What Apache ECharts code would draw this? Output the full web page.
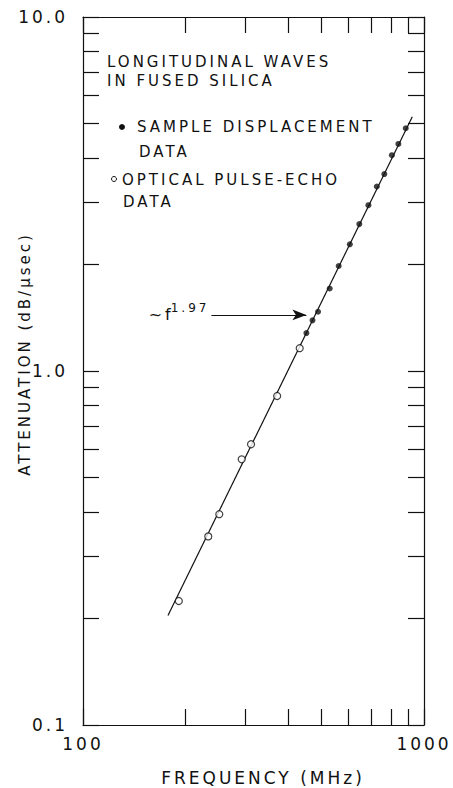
<!DOCTYPE html>
<html>
<head>
<meta charset="utf-8">
<script src="https://cdn.jsdelivr.net/npm/echarts@6/dist/echarts.min.js"></script>
<style>
  html, body { margin: 0; padding: 0; background: #fff; }
  /* the lettering in the figure is widely spaced; svg text picks this up */
  #main { width: 453px; height: 788px; letter-spacing: 3px; }
</style>
</head>
<body>
<div id="main"></div>
<script>
// ===== data =====
// sample displacement (filled dots)
const dispFreq  = [452, 471, 489, 529, 562, 606, 646, 687, 727, 765, 805, 841, 884];
const dispAtten = [1.28, 1.39, 1.47, 1.71, 1.98, 2.28, 2.60, 2.94, 3.32, 3.60, 4.07, 4.38, 4.85];
// optical pulse-echo (open circles)
const echoFreq  = [191, 233, 251, 292, 311, 371, 432];
const echoAtten = [0.224, 0.341, 0.394, 0.563, 0.621, 0.850, 1.16];
// fitted ~f^1.97 line, end points
const fitFreq  = [177.5, 924];
const fitAtten = [0.204, 5.23];
// arrow pointing at the line
const arrowFreq  = [238, 452];
const arrowAtten = 1.44;

// ticks and labels
const xTicks  = [100, 200, 300, 400, 500, 600, 700, 800, 900, 1000];
const xLabels = [100, 1000];
const yTicks  = [0.1, 0.2, 0.3, 0.4, 0.5, 0.6, 0.7, 0.8, 0.9, 1, 2, 3, 4, 5, 6, 7, 8, 9, 10];
const yLabels = [0.1, 1, 10];

const FONT = 'DejaVu Sans';
const INK = '#111';

const zip = (xs, ys) => xs.map((x, i) => [x, ys[i]]);

const chart = echarts.init(document.getElementById('main'), null, { renderer: 'svg' });

function logAxis(min, max, position, ticks, labels) {
  return {
    type: 'log',
    logBase: 10,
    min, max, position,
    axisLine: { lineStyle: { color: INK, width: 1.2 } },
    axisTick: { show: true, inside: true, length: 16, customValues: ticks, lineStyle: { color: INK, width: 1.2 } },
    axisLabel: labels
      ? { customValues: labels, color: INK, fontFamily: FONT, fontSize: 17 }
      : { show: false },
    splitLine: { show: false },
    minorTick: { show: false }
  };
}

const xBottom = logAxis(100, 1000, 'bottom', xTicks, xLabels);
xBottom.axisLabel.margin = 10;
xBottom.axisLabel.formatter = v => String(Math.round(v));
const yLeft = logAxis(0.1, 10, 'left', yTicks, yLabels);
yLeft.axisLabel.margin = 15;
yLeft.axisLabel.formatter = v => Number(v).toFixed(1);

const option = {
  animation: false,
  backgroundColor: '#fff',
  grid: { left: 83, right: 29, top: 17, bottom: 63 },
  xAxis: [xBottom, logAxis(100, 1000, 'top', xTicks, null)],
  yAxis: [yLeft, logAxis(0.1, 10, 'right', yTicks, null)],
  series: [
    {
      name: 'fit',
      type: 'line',
      data: zip(fitFreq, fitAtten),
      symbol: 'none',
      lineStyle: { color: INK, width: 1.2 },
      silent: true,
      z: 1,
      markLine: {
        silent: true,
        symbol: ['none', 'arrow'],
        symbolSize: [8, 14],
        lineStyle: { color: INK, width: 1.2, type: 'solid' },
        label: {
          show: true,
          position: 'start',
          distance: 2,
          color: INK,
          fontFamily: FONT,
          formatter: '{a|~f}{b|1.97}',
          rich: {
            a: { fontSize: 16, fontFamily: FONT, color: INK, lineHeight: 26, verticalAlign: 'middle' },
            b: { fontSize: 12, fontFamily: FONT, color: INK, lineHeight: 12, verticalAlign: 'top', padding: [0, 0, 0, 9] }
          }
        },
        data: [[
          { coord: [arrowFreq[0], arrowAtten] },
          { coord: [arrowFreq[1], arrowAtten] }
        ]]
      }
    },
    {
      name: 'SAMPLE DISPLACEMENT DATA',
      type: 'scatter',
      data: zip(dispFreq, dispAtten),
      symbol: 'circle',
      symbolSize: 6,
      itemStyle: { color: INK },
      z: 3
    },
    {
      name: 'OPTICAL PULSE-ECHO DATA',
      type: 'scatter',
      data: zip(echoFreq, echoAtten),
      symbol: 'circle',
      symbolSize: 7,
      itemStyle: { color: '#fff', borderColor: INK, borderWidth: 1.2 },
      z: 3
    }
  ],
  graphic: [
    // legend block
    { type: 'text', x: 107, y: 62, style: { text: 'LONGITUDINAL WAVES', fill: INK, font: '15px "DejaVu Sans"', textVerticalAlign: 'middle' } },
    { type: 'text', x: 107, y: 81, style: { text: 'IN FUSED SILICA', fill: INK, font: '15px "DejaVu Sans"', textVerticalAlign: 'middle' } },
    { type: 'circle', shape: { cx: 122, cy: 127, r: 3 }, style: { fill: INK } },
    { type: 'text', x: 137, y: 127, style: { text: 'SAMPLE DISPLACEMENT', fill: INK, font: '15px "DejaVu Sans"', textVerticalAlign: 'middle' } },
    { type: 'text', x: 139, y: 152, style: { text: 'DATA', fill: INK, font: '15px "DejaVu Sans"', textVerticalAlign: 'middle' } },
    { type: 'circle', shape: { cx: 114, cy: 179, r: 2.5 }, style: { fill: '#fff', stroke: INK, lineWidth: 1 } },
    { type: 'text', x: 122, y: 180, style: { text: 'OPTICAL PULSE-ECHO', fill: INK, font: '15px "DejaVu Sans"', textVerticalAlign: 'middle' } },
    { type: 'text', x: 123, y: 202, style: { text: 'DATA', fill: INK, font: '15px "DejaVu Sans"', textVerticalAlign: 'middle' } },
    // axis titles
    { type: 'text', x: 263, y: 778, style: { text: 'FREQUENCY (MHz)', fill: INK, font: '17px "DejaVu Sans"', textAlign: 'center', textVerticalAlign: 'middle' } },
    { type: 'text', x: 25, y: 354, rotation: Math.PI / 2, style: { text: 'ATTENUATION (dB/μsec)', fill: INK, font: '15px "DejaVu Sans"', textAlign: 'center', textVerticalAlign: 'middle' } }
  ]
};

chart.setOption(option);
</script>
</body>
</html>
